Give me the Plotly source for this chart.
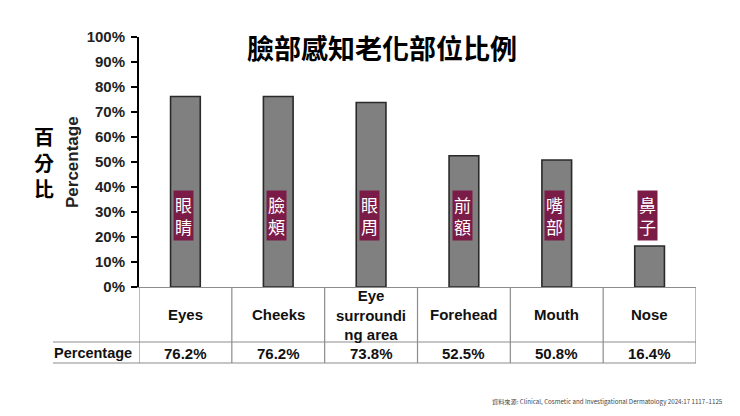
import plotly.graph_objects as go

# ---- data ----
categories = ["Eyes", "Cheeks", "Eye surrounding area", "Forehead", "Mouth", "Nose"]
category_labels = ["Eyes", "Cheeks", "Eye<br>surroundi<br>ng area", "Forehead", "Mouth", "Nose"]
values = [0.762, 0.762, 0.738, 0.525, 0.508, 0.164]
value_labels = ["76.2%", "76.2%", "73.8%", "52.5%", "50.8%", "16.4%"]
zh_labels = ["眼<br>睛", "臉<br>頰", "眼<br>周", "前<br>額", "嘴<br>部", "鼻<br>子"]
y_ticks = [0, 0.1, 0.2, 0.3, 0.4, 0.5, 0.6, 0.7, 0.8, 0.9, 1.0]

W, H = 740, 416
L, R, T, B = 139, 696, 37, 287  # plot area in px


def px_x(p):
    return (p - L) / (R - L)


def px_y(p):
    return (B - p) / (B - T)


xpos = list(range(len(categories)))

fig = go.Figure()
fig.add_trace(go.Bar(
    x=xpos, y=values, width=0.32,
    marker=dict(color="#808080", line=dict(color="#2a2a2a", width=1.6)),
    hoverinfo="skip",
))

ARIAL = "Liberation Sans, Arial, sans-serif"
CJK = "Noto Sans CJK TC, Noto Sans CJK SC, sans-serif"
GRAY = "#8c8c8c"

shapes = []
annotations = []

# table lines
for i in range(len(categories) + 1):
    shapes.append(dict(type="line", xref="x", yref="paper",
                       x0=i - 0.5, x1=i - 0.5, y0=0, y1=px_y(363),
                       line=dict(color=GRAY, width=1.2)))
for yy in (342, 363):
    shapes.append(dict(type="line", xref="paper", yref="paper",
                       x0=px_x(53), x1=1, y0=px_y(yy), y1=px_y(yy),
                       line=dict(color=GRAY, width=1.2)))

# category labels and value labels
for i, (c, v) in enumerate(zip(category_labels, value_labels)):
    annotations.append(dict(x=i, y=px_y(314.5), xref="x", yref="paper", text=c,
                            showarrow=False, xanchor="center", yanchor="middle",
                            font=dict(family=ARIAL, size=15, color="#111", weight="bold")))
    annotations.append(dict(x=i, y=px_y(353), xref="x", yref="paper", text=v,
                            showarrow=False, xanchor="center", yanchor="middle",
                            font=dict(family=ARIAL, size=15, color="#111", weight="bold")))
annotations.append(dict(x=px_x(134), y=px_y(353), xref="paper", yref="paper",
                        text="Percentage", showarrow=False, xanchor="right", yanchor="middle",
                        font=dict(family=ARIAL, size=14.5, color="#111", weight="bold")))

# chinese labels on bars
for i, z in enumerate(zh_labels):
    annotations.append(dict(x=i - 0.02, y=0.286, xref="x", yref="y", text=z,
                            showarrow=False, xanchor="center", yanchor="middle",
                            bgcolor="#7b1c48", borderpad=1,
                            font=dict(family=CJK, size=17, color="white")))

# title
annotations.append(dict(x=px_x(382), y=px_y(47), xref="paper", yref="paper",
                        text="臉部感知老化部位比例", showarrow=False,
                        xanchor="center", yanchor="middle",
                        font=dict(family=CJK, size=27, color="black", weight="bold")))
# left Chinese axis label
annotations.append(dict(x=px_x(44), y=px_y(162), xref="paper", yref="paper",
                        text="百<br>分<br>比", showarrow=False,
                        xanchor="center", yanchor="middle",
                        font=dict(family=CJK, size=20, color="black", weight="bold")))
# rotated Percentage
annotations.append(dict(x=px_x(72), y=px_y(162), xref="paper", yref="paper",
                        text="Percentage", showarrow=False, textangle=-90,
                        xanchor="center", yanchor="middle",
                        font=dict(family=ARIAL, size=17, color="#222", weight="bold")))
# source
annotations.append(dict(x=px_x(725), y=px_y(401), xref="paper", yref="paper",
                        text="資料來源: Clinical, Cosmetic and Investigational Dermatology 2024:17 1117–1125",
                        showarrow=False, xanchor="right", yanchor="middle",
                        font=dict(family="Noto Sans CJK TC, sans-serif", size=6.2, color="#444")))

fig.update_layout(
    width=W, height=H,
    margin=dict(l=L, r=W - R, t=T, b=H - B, pad=0),
    paper_bgcolor="white", plot_bgcolor="white",
    showlegend=False,
    shapes=shapes, annotations=annotations,
    xaxis=dict(range=[-0.5, len(categories) - 0.5], showticklabels=False,
               showgrid=False, zeroline=False, showline=True,
               linecolor=GRAY, linewidth=1.2, ticks="", fixedrange=True),
    yaxis=dict(range=[0, 1], tickvals=y_ticks, tickformat=".0%",
               showgrid=False, zeroline=False, showline=True,
               linecolor="black", linewidth=2, ticks="outside",
               ticklen=6, tickwidth=1.5, tickcolor="black",
               ticklabelstandoff=3,
               tickfont=dict(family=ARIAL, size=15, color="#222", weight="bold"),
               fixedrange=True),
)

fig.write_html("out.html", config={"displayModeBar": False},
               post_script="document.body.style.margin='0';")
